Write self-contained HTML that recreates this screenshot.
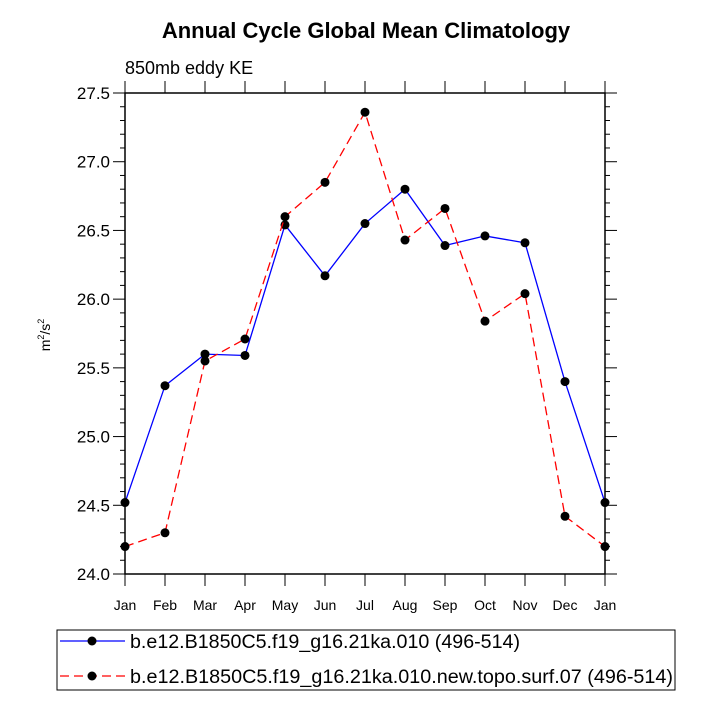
<!DOCTYPE html>
<html><head><meta charset="utf-8"><style>body{margin:0;background:#fff}svg{display:block;font-family:"Liberation Sans",Arial,sans-serif}</style></head>
<body>
<svg id="c" width="713" height="713">
<text x="366" y="38" font-size="22" font-weight="bold" text-anchor="middle">Annual Cycle Global Mean Climatology</text>
<text x="125" y="74" font-size="18">850mb eddy KE</text>
<text transform="translate(50,335) rotate(-90)" font-size="14" text-anchor="middle">m<tspan font-size="9" dy="-6">2</tspan><tspan dy="6">/s</tspan><tspan font-size="9" dy="-6">2</tspan></text>
<rect x="57" y="630" width="618" height="60" fill="none" stroke="#000"/>
<g id="plot"></g>
</svg>
<script>
const months=["Jan","Feb","Mar","Apr","May","Jun","Jul","Aug","Sep","Oct","Nov","Dec","Jan"];
const yTicks=[24.0,24.5,25.0,25.5,26.0,26.5,27.0,27.5];
const seriesBlue=[24.52,25.37,25.60,25.59,26.54,26.17,26.55,26.80,26.39,26.46,26.41,25.40,24.52];
const seriesRed=[24.20,24.30,25.55,25.71,26.60,26.85,27.36,26.43,26.66,25.84,26.04,24.42,24.20];
const legendLabels=["b.e12.B1850C5.f19_g16.21ka.010 (496-514)","b.e12.B1850C5.f19_g16.21ka.010.new.topo.surf.07 (496-514)"];
const L=125,R=605,T=93,B=574,ymin=24,ymax=27.5;
const xs=i=>L+i*(R-L)/(months.length-1);
const ys=v=>B-(v-ymin)/(ymax-ymin)*(B-T);
const g=document.getElementById('plot');const NS="http://www.w3.org/2000/svg";
function mk(t,a,p){const e=document.createElementNS(NS,t);for(const k in a)e.setAttribute(k,a[k]);(p||g).appendChild(e);return e;}
let f=mk('rect',{x:L,y:T,width:R-L,height:B-T,fill:'none',stroke:'#000','stroke-width':1.5});


for(let v=ymin;v<=ymax+1e-6;v+=0.1){const maj=Math.abs(v*2-Math.round(v*2))<1e-6;const len=maj?12:5;const y=ys(v);
mk('line',{x1:L-len,x2:L,y1:y,y2:y,stroke:'#000'});mk('line',{x1:R,x2:R+len,y1:y,y2:y,stroke:'#000'});}
yTicks.forEach(v=>{const t=mk('text',{x:L-15,y:ys(v)+6,'font-size':17,'text-anchor':'end'});t.textContent=v.toFixed(1);

});
months.forEach((m,i)=>{const x=xs(i);mk('line',{x1:x,x2:x,y1:B,y2:B+12,stroke:'#000'});mk('line',{x1:x,x2:x,y1:T,y2:T-12,stroke:'#000'});
const t=mk('text',{x:x,y:B+36,'font-size':14,'text-anchor':'middle'});t.textContent=m;

});
function series(vals,color,dash,name){const p=mk('polyline',{points:vals.map((v,i)=>xs(i)+','+ys(v)).join(' '),fill:'none',stroke:color,'stroke-width':1.3,'stroke-dasharray':dash});


vals.forEach((v,i)=>{const c=mk('circle',{cx:xs(i),cy:ys(v),r:4.5,fill:'#000'});

});}
series(seriesBlue,'#00f','none','blue-series');
series(seriesRed,'#f00','9,5','red-series');
[[641,'#00f','none',390],[676,'#f00','9,5',543]].forEach((e,k)=>{mk('line',{x1:60,x2:125,y1:e[0],y2:e[0],stroke:e[1],'stroke-width':1.3,'stroke-dasharray':e[2]});
mk('circle',{cx:92,cy:e[0],r:4.5,fill:'#000'});
const t=mk('text',{x:130,y:e[0]+7,'font-size':19,textLength:e[3],lengthAdjust:'spacingAndGlyphs'});t.textContent=legendLabels[k];

});
</script>
</body></html>
